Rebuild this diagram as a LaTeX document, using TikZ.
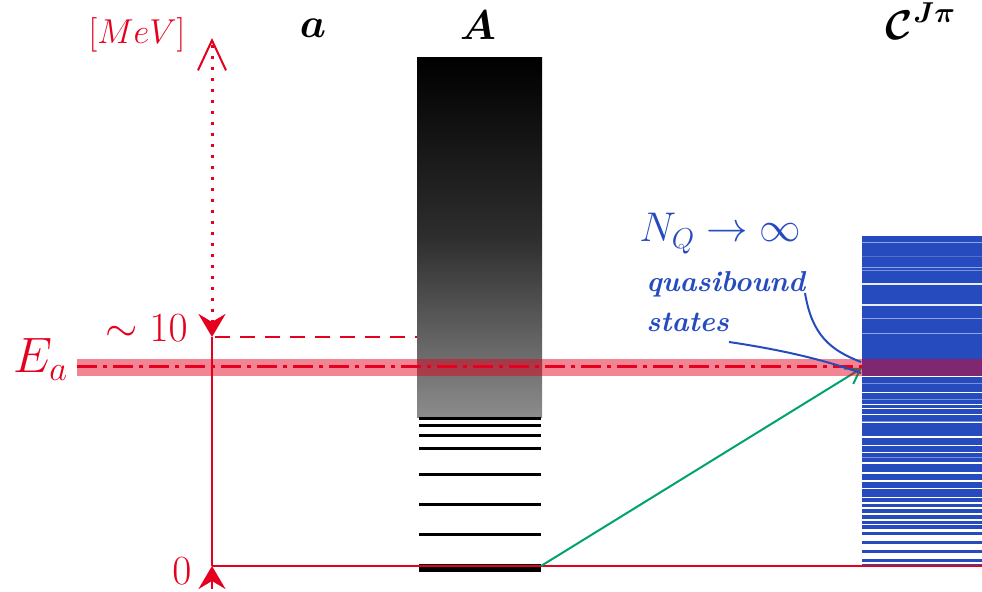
\documentclass[tikz,border=0pt]{standalone}
\usepackage{amsmath}
\usepackage{bm}
\usetikzlibrary{arrows.meta}

\definecolor{axisred}{RGB}{228,0,30}
\definecolor{levelblue}{RGB}{38,75,190}
\definecolor{decaygreen}{RGB}{0,163,108}

\begin{document}
\begin{tikzpicture}[
  x=0.5pt, y=-0.5pt,
  font=\fontsize{21}{25}\selectfont,
  lab/.style={inner sep=0pt},
  axis/.style={draw=axisred, line width=1.25pt},
  axistip/.style={-{Stealth[length=11.5pt, width=13.5pt, inset=4pt]}},
  level/.style={line width=1.5pt},
  pointer/.style={levelblue, line width=1pt},
]
\useasboundingbox (0,0) rectangle (982,592);

% Energy axis
\coordinate (zerob) at (212,589);
\coordinate (zero) at (212,566);
\coordinate (ten) at (212,337);
\coordinate (top) at (212,38);
\draw[axis] (zero) -- (ten);
\draw[axisred, line width=1.5pt, dash pattern=on 1.5pt off 4pt,
  {Stealth[length=11.5pt, width=13.5pt, inset=4pt]}-{Straight Barb[length=15pt, width=14pt, line width=1pt]}]
  (ten) -- (top);
\draw[axis, axistip] (zerob) -- (zero);
\draw[axis, dash pattern=on 7.5pt off 5pt] (215,337) -- (422,337);

% Target A: continuum and bound levels
\shade[top color=black, bottom color=black!45, middle color=black!82] (417,58) rectangle (542,418);
\foreach \y in {419,426,436,449,475,505,535}
  \draw[level] (419,\y) -- (541,\y);
\draw[line width=4pt] (419,568) -- (541,568);

% Compound levels C^{J pi}
\fill[levelblue] (862,236) rectangle (982,566);
\foreach \y/\w/\o in {243/0.5/0.5,256/0.4/0.2,268/0.5/0.5,271/0.5/0.4,284/0.6/0.9,305/0.6/0.9,
  319/0.5/0.5,334/0.5/0.5,376.5/0.7/1,383/0.4/0.4,392.5/0.7/1,399/0.4/0.4,404.5/0.7/1,
  409/0.5/1,415/0.5/1,421/0.4/0.4,423/0.5/1,437/0.7/1,446/0.5/1,453/0.5/1,457/0.4/0.4,
  463/0.7/1,473/0.7/1,481/0.7/1,488.5/0.9/1,497.5/0.9/1,503/0.9/1,508/0.7/1,514/0.9/1,520/0.9/1,
  524.5/0.5/1,530.5/1.4/1,538/3/1,547/3/1,556.5/3/1,563/1/1}
  \draw[white, line width=\w pt, opacity=\o] (862,\y) -- (982,\y);

% Ground state and decay
\coordinate (gs) at (541,566);
\coordinate (qs) at (862,368);
\draw[axis] (zero) -- (982,566);
\draw[decaygreen, line width=1pt, -{Straight Barb[length=7pt, width=9pt]}] (gs) -- (qs);

% Projectile energy E_a
\draw[axisred, line width=1.5pt, dash pattern=on 10pt off 3pt on 2pt off 3pt] (77,367) -- (862,367);
\fill[axisred, opacity=0.48] (77,359) rectangle (982,376);

% Labels
\node[lab, axisred, anchor=base, font=\fontsize{19}{23}\selectfont] (unit) at (137,44) {$[MeV]$};
\node[lab, anchor=base] (projlab) at (313,38) {$\bm{a}$};
\node[lab, anchor=base] (targlab) at (478,40) {$\bm{A}$};
\node[lab, anchor=base] (complab) at (921,40) {$\bm{\mathcal{C}}^{\bm{J\pi}}$};
\node[lab, axisred, anchor=base east] (tenlab) at (188,342) {$\sim 10$};
\node[lab, axisred, anchor=base] (zerolab) at (182,585) {$0$};
\node[lab, axisred, anchor=base west, font=\fontsize{23}{27}\selectfont] (ealab) at (13,373) {$E_a$};
\node[lab, levelblue, anchor=base west, font=\fontsize{22}{26}\selectfont] (nqlab) at (639,242) {$N_Q \to \infty$};
\node[lab, levelblue, anchor=north west, align=left, font=\fontsize{14.4}{20}\selectfont\bfseries\itshape]
  (qblab) at (646,271) {quasibound\\states};

% Pointers to the quasibound states
\coordinate (qbtail) at (805,293);
\coordinate (sttail) at (729,342);
\coordinate (qbhead) at (861,362);
\coordinate (sthead) at (861,373);
\draw[pointer] (qbtail) .. controls (812,335) and (830,350) .. (qbhead);
\draw[pointer] (sttail) .. controls (790,351) and (830,362) .. (sthead);
\end{tikzpicture}
\end{document}
